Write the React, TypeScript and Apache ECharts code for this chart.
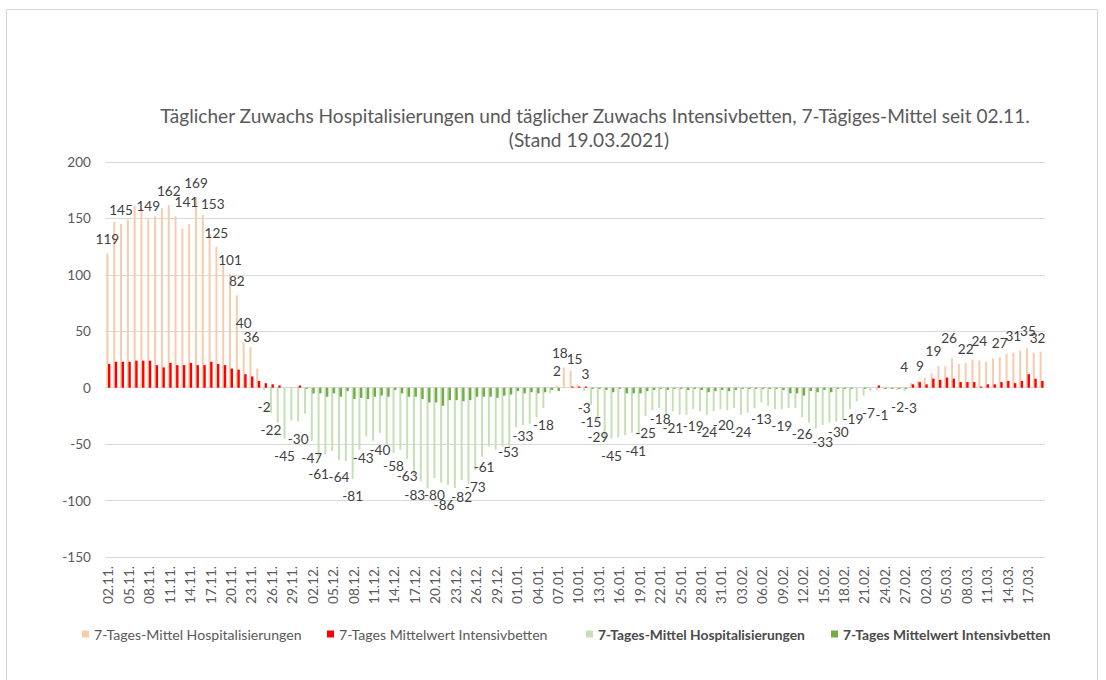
import React, { useEffect, useRef } from 'react';
import * as echarts from 'echarts';

const dates = [
  '02.11.', '03.11.', '04.11.', '05.11.', '06.11.', '07.11.', '08.11.', '09.11.', '10.11.', '11.11.',
  '12.11.', '13.11.', '14.11.', '15.11.', '16.11.', '17.11.', '18.11.', '19.11.', '20.11.', '21.11.',
  '22.11.', '23.11.', '24.11.', '25.11.', '26.11.', '27.11.', '28.11.', '29.11.', '30.11.',
  '01.12.', '02.12.', '03.12.', '04.12.', '05.12.', '06.12.', '07.12.', '08.12.', '09.12.', '10.12.',
  '11.12.', '12.12.', '13.12.', '14.12.', '15.12.', '16.12.', '17.12.', '18.12.', '19.12.', '20.12.',
  '21.12.', '22.12.', '23.12.', '24.12.', '25.12.', '26.12.', '27.12.', '28.12.', '29.12.', '30.12.', '31.12.',
  '01.01.', '02.01.', '03.01.', '04.01.', '05.01.', '06.01.', '07.01.', '08.01.', '09.01.', '10.01.',
  '11.01.', '12.01.', '13.01.', '14.01.', '15.01.', '16.01.', '17.01.', '18.01.', '19.01.', '20.01.',
  '21.01.', '22.01.', '23.01.', '24.01.', '25.01.', '26.01.', '27.01.', '28.01.', '29.01.', '30.01.', '31.01.',
  '01.02.', '02.02.', '03.02.', '04.02.', '05.02.', '06.02.', '07.02.', '08.02.', '09.02.', '10.02.',
  '11.02.', '12.02.', '13.02.', '14.02.', '15.02.', '16.02.', '17.02.', '18.02.', '19.02.', '20.02.',
  '21.02.', '22.02.', '23.02.', '24.02.', '25.02.', '26.02.', '27.02.', '28.02.',
  '01.03.', '02.03.', '03.03.', '04.03.', '05.03.', '06.03.', '07.03.', '08.03.', '09.03.', '10.03.',
  '11.03.', '12.03.', '13.03.', '14.03.', '15.03.', '16.03.', '17.03.', '18.03.', '19.03.',
];

// 7-day mean of daily change in hospitalisations
const hospitalisierungen = [
  119, 147, 145, 149, 161, 159, 149, 152, 159, 162,
  152, 141, 145, 169, 153, 136, 125, 110, 101, 82,
  40, 36, 17, -2, -22, -31, -45, -29, -30, -23,
  -47, -61, -59, -56, -64, -65, -81, -55, -43, -47,
  -40, -50, -58, -55, -63, -77, -83, -89, -80, -84,
  -86, -89, -82, -85, -73, -61, -52, -55, -52, -53,
  -35, -33, -32, -26, -18, -5, 2, 18, 15, 3,
  -3, -15, -29, -46, -45, -44, -42, -40, -41, -25,
  -20, -18, -25, -21, -24, -24, -19, -21, -24, -21,
  -19, -20, -18, -24, -22, -18, -13, -16, -19, -19,
  -18, -18, -26, -31, -36, -33, -31, -30, -28, -19,
  -12, -7, -3, -2, -1, -1, -2, -3, 4, 6,
  9, 13, 19, 19, 26, 21, 22, 25, 24, 23,
  26, 27, 30, 31, 33, 35, 31, 32,
];

// 7-day mean of daily change in ICU beds
const intensivbetten = [
  21, 23, 23, 23, 24, 24, 24, 20, 18, 22,
  20, 20, 22, 20, 20, 23, 21, 20, 17, 16,
  12, 10, 6, 4, 3, 2, 0, 0, 2, -1,
  -5, -5, -8, -5, -8, -3, -10, -9, -10, -8,
  -7, -8, -2, -5, -8, -8, -10, -13, -13, -16,
  -11, -11, -12, -11, -8, -8, -8, -9, -7, -6,
  -3, -5, -4, -5, -4, -2, -3, 0, 1, 1,
  1, -1, -1, -2, -4, -1, -5, -5, -5, -3,
  -2, -1, -2, -1, -1, -2, -1, -2, -4, -3,
  -2, -3, -2, -1, -1, -1, -1, -1, -1, -2,
  -5, -5, -7, -3, -4, -2, -4, -1, -1, -1,
  0, -1, 0, 2, -1, -1, -1, -1, 3, 5,
  3, 8, 7, 9, 8, 5, 5, 5, 1, 3,
  3, 5, 6, 4, 6, 12, 8, 6,
];

// bars of the hospitalisation series that carry a data label
const labelledBars = [
  0, 2, 6, 9, 11, 13, 14, 16, 18, 19, 20, 21,
  23, 24, 26, 28, 30, 31, 34, 36, 38, 40, 42, 44, 46, 48, 50, 52, 54, 55, 59, 61, 64,
  66, 67, 68, 69,
  70, 71, 72, 74, 78, 79, 81, 83, 86, 88, 91, 93, 96, 99, 102, 105, 107, 109, 111, 114, 116, 117,
  118, 120, 122, 124, 126, 128, 131, 133, 135, 137,
];

const yMin = -150;
const yMax = 200;
const yStep = 50;

const titleLines = [
  'Täglicher Zuwachs Hospitalisierungen und täglicher Zuwachs Intensivbetten, 7-Tägiges-Mittel seit 02.11.',
  '(Stand 19.03.2021)',
];

const seriesNames = [
  '7-Tages-Mittel Hospitalisierungen',
  '7-Tages Mittelwert Intensivbetten',
  '7-Tages-Mittel Hospitalisierungen ',
  '7-Tages Mittelwert Intensivbetten ',
];

const FONT = 'Lato, "Open Sans", sans-serif';
const COL_HOSP_POS = '#f8cbad';
const COL_ICU_POS = '#ff0000';
const COL_HOSP_NEG = '#c5e0b4';
const COL_ICU_NEG = '#70ad47';
const TEXT = '#595959';
const LABEL = '#404040';

// small hand placements of some data labels, as in the reference (style only)
const LABEL_NUDGE: Record<number, [number, number]> = {
  11: [4, -13], 14: [10, 3], 20: [0, -6], 21: [1, 4],
  38: [-3, 5], 42: [0, -4], 46: [-6, -3], 50: [-4, 3], 55: [2, -7], 59: [-1, -13], 61: [0, -6],
  67: [-4, 0], 68: [4, 2], 69: [8, 4],
  78: [-3, 0], 81: [1, -6], 91: [-4, -2], 107: [2, -7], 109: [3, -7], 111: [5, 0], 114: [-2, 9], 117: [6, 0],
  118: [-7, -2], 120: [-5, 2], 122: [-5, -1], 124: [-3, -6], 128: [0, -6], 133: [0, -3], 135: [1, -3], 137: [-3, 0],
};

function fitSize(text: string, target: number, weight = 'normal'): number {
  const ctx = document.createElement('canvas').getContext('2d');
  if (!ctx) return 14;
  ctx.font = `${weight} 100px ${FONT}`;
  const w = ctx.measureText(text).width;
  return Math.round((1000 * target) / w) / 10;
}

export default function App() {
  const ref = useRef<HTMLDivElement>(null);

  useEffect(() => {
    document.body.style.margin = '0';
    if (!ref.current) return;
    const chart = echarts.init(ref.current, undefined, { renderer: 'svg' });

    const axisSize = fitSize('02.11.', 38);
    const legendSize = fitSize(seriesNames[0], 207);
    const legendBoldSize = fitSize(seriesNames[0], 207, 'bold');
    const titleSize = fitSize(titleLines[0], 870);
    const labelSet = new Set(labelledBars);

    const item = (v: number, i: number) =>
      labelSet.has(i)
        ? { value: v, label: { show: true, offset: LABEL_NUDGE[i] || [0, 0] } }
        : v;

    const hospPos = hospitalisierungen.map((v, i) => (v > 0 ? item(v, i) : null));
    const hospNeg = hospitalisierungen.map((v, i) => (v < 0 ? item(v, i) : null));
    const icuPos = intensivbetten.map((v) => (v > 0 ? v : null));
    const icuNeg = intensivbetten.map((v) => (v < 0 ? v : null));

    const labelStyle = {
      show: false,
      color: LABEL,
      fontFamily: FONT,
      fontSize: axisSize,
    };

    const common = { type: 'bar' as const, barGap: '-22%' };

    const legendLeft = [82, 327, 586, 831];

    const option: any = {
      animation: false,
      grid: { left: 105, right: 61, top: 162, bottom: 123, containLabel: false },
      xAxis: {
        type: 'category',
        data: dates,
        axisLine: { show: false, onZero: false },
        axisTick: { show: false },
        splitLine: { show: false },
        axisLabel: {
          interval: 2,
          rotate: 90,
          margin: 9,
          color: TEXT,
          fontFamily: FONT,
          fontSize: axisSize,
        },
      },
      yAxis: {
        type: 'value',
        min: yMin,
        max: yMax,
        interval: yStep,
        axisLine: { show: false },
        axisTick: { show: false },
        splitLine: { lineStyle: { color: '#d9d9d9', width: 1 } },
        axisLabel: { margin: 14, color: TEXT, fontFamily: FONT, fontSize: axisSize },
      },
      legend: seriesNames.map((name, k) => ({
        data: [name],
        left: legendLeft[k],
        top: 626,
        padding: 0,
        itemWidth: 7,
        itemHeight: 7,
        icon: 'rect',
        selectedMode: false,
        formatter: (n: string) => n.trim(),
        textStyle: {
          fontFamily: FONT,
          fontSize: k >= 2 ? legendBoldSize : legendSize,
          fontWeight: k >= 2 ? 'bold' : 'normal',
          color: k >= 2 ? '#4a4a4a' : TEXT,
          lineHeight: 16,
        },
      })),
      graphic: [
        {
          type: 'rect',
          silent: true,
          shape: { x: 6.5, y: 9.5, width: 1091, height: 700 },
          style: { fill: 'none', stroke: '#d9d9d9', lineWidth: 1 },
        },
        {
          type: 'text',
          x: 595,
          y: 115,
          silent: true,
          style: {
            text: titleLines[0],
            align: 'center',
            verticalAlign: 'middle',
            fill: TEXT,
            fontFamily: FONT,
            fontSize: titleSize,
          },
        },
        {
          type: 'text',
          x: 589,
          y: 139,
          silent: true,
          style: {
            text: titleLines[1],
            align: 'center',
            verticalAlign: 'middle',
            fill: TEXT,
            fontFamily: FONT,
            fontSize: titleSize,
          },
        },
      ],
      series: [
        {
          ...common,
          name: seriesNames[0],
          stack: 'hosp',
          barWidth: 2,
          data: hospPos,
          itemStyle: { color: COL_HOSP_POS },
          label: { ...labelStyle, position: 'top', distance: 7 },
        },
        {
          ...common,
          name: seriesNames[2],
          stack: 'hosp',
          barWidth: 2,
          data: hospNeg,
          itemStyle: { color: COL_HOSP_NEG },
          label: { ...labelStyle, position: 'bottom', distance: 10 },
        },
        {
          ...common,
          name: seriesNames[1],
          stack: 'icu',
          barWidth: 2.4,
          data: icuPos,
          itemStyle: { color: COL_ICU_POS },
        },
        {
          ...common,
          name: seriesNames[3],
          stack: 'icu',
          barWidth: 2.4,
          data: icuNeg,
          itemStyle: { color: COL_ICU_NEG },
        },
      ],
    };

    chart.setOption(option);
    return () => chart.dispose();
  }, []);

  return <div ref={ref} style={{ width: 1106, height: 680 }} />;
}
